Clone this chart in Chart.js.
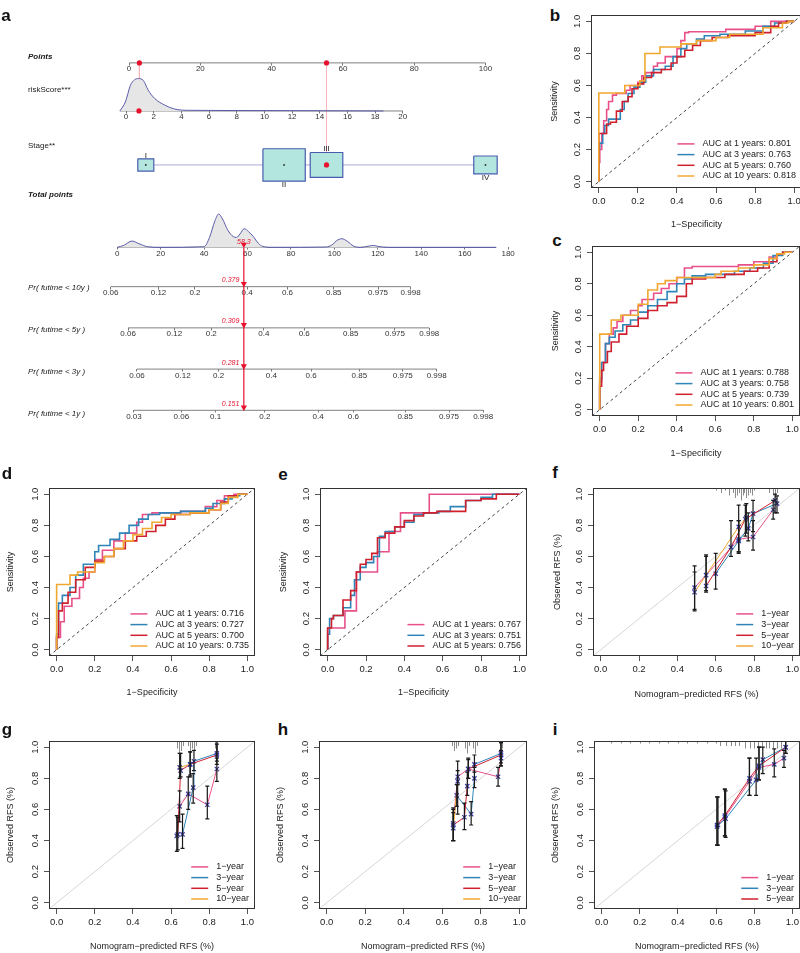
<!DOCTYPE html>
<html>
<head>
<meta charset="utf-8">
<script src="https://cdn.jsdelivr.net/npm/chart.js@4.4.1/dist/chart.umd.min.js"></script>
<style>
html, body { margin: 0; padding: 0; background: #fff; }
#page { position: relative; width: 800px; height: 953px; overflow: hidden; background: #fff; }
#page canvas { position: absolute; }
.tag { position: absolute; font: bold 17px "Liberation Sans", Arial, sans-serif; color: #111; transform: translate(-50%, -50%); line-height: 1; }
</style>
</head>
<body>
<div id="page">
  <canvas id="nomo" width="520" height="430" style="left:0;top:0"></canvas>
  <div class="tag" style="left:6px;top:15px">a</div>
  <div class="tag" style="left:555px;top:15px">b</div>
  <div class="tag" style="left:557px;top:240px">c</div>
  <div class="tag" style="left:7px;top:473px">d</div>
  <div class="tag" style="left:283px;top:474px">e</div>
  <div class="tag" style="left:555px;top:472px">f</div>
  <div class="tag" style="left:7px;top:729px">g</div>
  <div class="tag" style="left:283px;top:729px">h</div>
  <div class="tag" style="left:555px;top:729px">i</div>
</div>
<script>
// ---- nomogram (a) ----
const pointsTicks = [0, 20, 40, 60, 80, 100];
const riskTicks = [0, 2, 4, 6, 8, 10, 12, 14, 16, 18, 20];
const totalTicks = [0, 20, 40, 60, 80, 100, 120, 140, 160, 180];
const riskDensX = [-0.45, -0.05, 0.31, 0.6, 0.9, 1.25, 1.6, 2.08, 2.8, 3.5, 4.5, 7, 12, 18.6];
const riskDensY = [0, 0.28, 0.79, 0.96, 1.0, 0.94, 0.64, 0.38, 0.18, 0.06, 0.02, 0.015, 0.01, 0];
const totalDensX = [0, 3, 6.8, 10, 14, 20, 40, 42.5, 45, 46.7, 48.5, 50.8, 53.5, 55, 56.5, 58.5, 60.5, 62.6, 65, 67, 72, 96, 99, 101, 103.4, 106, 108.8, 112, 116, 118, 120, 125, 174.5];
const totalDensY = [0, 0.06, 0.19, 0.11, 0.02, 0, 0.02, 0.3, 0.8, 1.0, 0.85, 0.53, 0.32, 0.3, 0.4, 0.56, 0.47, 0.33, 0.12, 0.03, 0, 0.01, 0.08, 0.2, 0.26, 0.18, 0.04, 0, 0.04, 0.06, 0.03, 0, 0];
const stageNames = ['I', 'II', 'III', 'IV'];
const stagePoints = [4.7, 43.5, 55.4, 100];
const stageShare = [7, 49, 29, 15];
const probYears = ['10y', '5y', '3y', '1y'];
const probTickText = [
  ['0.06', '0.12', '0.2', '0.4', '0.6', '0.85', '0.975', '0.998'],
  ['0.06', '0.12', '0.2', '0.4', '0.6', '0.85', '0.975', '0.998'],
  ['0.06', '0.12', '0.2', '0.4', '0.6', '0.85', '0.975', '0.998'],
  ['0.03', '0.06', '0.1', '0.2', '0.4', '0.6', '0.85', '0.975', '0.998']
];
const probTickAt = [
  [-3.0, 19.0, 35.8, 59.8, 78.4, 99.7, 120.1, 135.1],
  [5.0, 26.3, 43.3, 67.5, 86.1, 107.5, 127.9, 143.7],
  [9.1, 30.2, 46.7, 71.0, 89.3, 111.5, 131.5, 147.1],
  [7.7, 29.5, 45.3, 68.0, 92.5, 108.7, 132.6, 152.8, 168.5]
];
const patientPoints = [2.9, 55.4];
const patientRisk = 0.93;
const patientStage = 2;
const patientTotal = 58.3;
const patientProb = [0.379, 0.309, 0.281, 0.151];

// ---- ROC curves (b-e): [fpr, tpr] corners, rising then running ----
const rocYears = [1, 3, 5, 10];
const aucB = [0.801, 0.763, 0.760, 0.818];
const aucC = [0.788, 0.758, 0.739, 0.801];
const aucD = [0.716, 0.727, 0.700, 0.735];
const aucE = [0.767, 0.751, 0.756];
const rocB1 = [[0.005,0.12],[0.015,0.2],[0.025,0.3],[0.04,0.38],[0.05,0.45],[0.07,0.5],[0.09,0.54],[0.14,0.55],[0.16,0.57],[0.2,0.6],[0.22,0.62],[0.24,0.66],[0.28,0.68],[0.3,0.72],[0.34,0.74],[0.4,0.78],[0.42,0.83],[0.44,0.88],[0.46,0.93],[0.65,0.935],[0.8,0.95],[0.88,0.97],[0.93,1.0],[1,1]];
const rocB3 = [[0.005,0.21],[0.02,0.24],[0.03,0.3],[0.05,0.35],[0.07,0.39],[0.11,0.39],[0.13,0.45],[0.15,0.5],[0.18,0.55],[0.21,0.59],[0.24,0.62],[0.28,0.66],[0.34,0.7],[0.38,0.72],[0.42,0.78],[0.45,0.83],[0.5,0.86],[0.54,0.89],[0.62,0.91],[0.75,0.92],[0.84,0.94],[0.9,0.97],[0.96,0.99],[1,1]];
const rocB5 = [[0.04,0.3],[0.06,0.36],[0.09,0.37],[0.12,0.44],[0.15,0.5],[0.17,0.53],[0.2,0.58],[0.23,0.61],[0.27,0.65],[0.32,0.68],[0.37,0.7],[0.4,0.74],[0.44,0.78],[0.48,0.82],[0.52,0.85],[0.58,0.88],[0.66,0.9],[0.8,0.91],[0.88,0.93],[0.92,0.97],[0.96,0.99],[1,1]];
const rocB10 = [[0.133,0.553],[0.21,0.6],[0.236,0.63],[0.313,0.8],[0.42,0.84],[0.5,0.86],[0.6,0.88],[0.67,0.9],[0.84,0.92],[0.94,0.96],[0.97,0.99],[1,1]];
const rocC1 = [[0.01,0.18],[0.03,0.3],[0.05,0.42],[0.07,0.48],[0.09,0.52],[0.12,0.56],[0.16,0.6],[0.2,0.63],[0.22,0.66],[0.28,0.7],[0.32,0.74],[0.36,0.77],[0.4,0.8],[0.44,0.84],[0.48,0.9],[0.72,0.91],[0.8,0.92],[0.88,0.94],[0.92,0.97],[0.95,0.99],[1,1]];
const rocC3 = [[0.01,0.2],[0.03,0.3],[0.05,0.42],[0.08,0.46],[0.12,0.5],[0.16,0.54],[0.2,0.57],[0.25,0.62],[0.3,0.66],[0.35,0.7],[0.4,0.75],[0.44,0.8],[0.48,0.83],[0.55,0.85],[0.7,0.86],[0.78,0.88],[0.85,0.9],[0.9,0.93],[0.95,0.98],[1,1]];
const rocC5 = [[0.01,0.15],[0.02,0.25],[0.04,0.3],[0.06,0.37],[0.1,0.43],[0.14,0.48],[0.2,0.53],[0.25,0.58],[0.3,0.63],[0.35,0.66],[0.4,0.68],[0.45,0.72],[0.48,0.8],[0.55,0.83],[0.65,0.84],[0.75,0.86],[0.82,0.88],[0.88,0.9],[0.92,0.94],[0.95,0.99],[1,1]];
const rocC10 = [[0.06,0.48],[0.11,0.57],[0.2,0.6],[0.25,0.67],[0.3,0.76],[0.34,0.8],[0.4,0.82],[0.44,0.84],[0.6,0.84],[0.63,0.86],[0.72,0.88],[0.8,0.9],[0.88,0.92],[0.92,0.96],[0.96,0.99],[1,1]];
const rocD1 = [[0.02,0.08],[0.04,0.18],[0.08,0.28],[0.12,0.33],[0.14,0.4],[0.17,0.46],[0.2,0.5],[0.24,0.58],[0.3,0.64],[0.36,0.7],[0.42,0.75],[0.45,0.82],[0.5,0.87],[0.65,0.88],[0.78,0.89],[0.84,0.92],[0.88,0.96],[0.93,0.99],[1,1]];
const rocD3 = [[0.01,0.1],[0.03,0.3],[0.07,0.35],[0.1,0.4],[0.14,0.48],[0.2,0.55],[0.22,0.63],[0.28,0.67],[0.33,0.71],[0.38,0.75],[0.43,0.8],[0.48,0.84],[0.54,0.87],[0.65,0.88],[0.78,0.89],[0.82,0.91],[0.88,0.94],[0.92,0.97],[0.96,0.99],[1,1]];
const rocD5 = [[0.01,0.08],[0.03,0.25],[0.06,0.3],[0.1,0.37],[0.15,0.45],[0.2,0.53],[0.25,0.57],[0.3,0.6],[0.36,0.65],[0.42,0.7],[0.47,0.73],[0.52,0.76],[0.57,0.8],[0.62,0.84],[0.7,0.87],[0.8,0.88],[0.86,0.9],[0.9,0.95],[0.95,0.99],[1,1]];
const rocD10 = [[0.07,0.42],[0.11,0.48],[0.2,0.5],[0.25,0.56],[0.3,0.6],[0.35,0.65],[0.4,0.7],[0.45,0.74],[0.5,0.78],[0.55,0.82],[0.6,0.85],[0.7,0.87],[0.8,0.88],[0.86,0.9],[0.9,0.94],[0.95,0.98],[1,1]];
const rocE1 = [[0.09,0.14],[0.15,0.25],[0.26,0.5],[0.32,0.63],[0.38,0.76],[0.53,0.88],[1,1]];
const rocE3 = [[0.01,0.1],[0.03,0.2],[0.08,0.22],[0.12,0.27],[0.14,0.35],[0.17,0.45],[0.2,0.53],[0.24,0.56],[0.27,0.6],[0.3,0.73],[0.35,0.76],[0.4,0.79],[0.45,0.82],[0.5,0.87],[0.58,0.88],[0.64,0.89],[0.72,0.92],[0.8,0.96],[0.86,0.98],[0.9,1.0],[1,1]];
const rocE5 = [[0.02,0.14],[0.03,0.2],[0.08,0.22],[0.12,0.32],[0.15,0.38],[0.17,0.5],[0.2,0.55],[0.23,0.58],[0.26,0.62],[0.3,0.72],[0.35,0.75],[0.4,0.79],[0.45,0.83],[0.5,0.86],[0.57,0.88],[0.72,0.89],[0.8,0.96],[0.88,0.97],[0.92,1.0],[1,1]];

// ---- calibration (f-i): [predicted, observed, lower, upper] ----
const calYears = ['1-year', '3-year', '5-year', '10-year'];
const calF1 = [[0.49,0.40,0.26,0.54],[0.72,0.71,0.63,0.83],[0.795,0.725,0.64,0.83],[0.90,0.90,0.84,0.96]];
const calF3 = [[0.60,0.49,0.39,0.62],[0.72,0.70,0.63,0.83],[0.77,0.78,0.70,0.88],[0.795,0.875,0.76,0.96],[0.92,0.94,0.88,0.99]];
const calF5 = [[0.55,0.41,0.37,0.61],[0.68,0.66,0.60,0.83],[0.755,0.84,0.73,0.93],[0.91,0.96,0.88,1.0]];
const calF10 = [[0.49,0.37,0.25,0.50],[0.55,0.48,0.38,0.60],[0.72,0.79,0.62,0.93],[0.76,0.85,0.75,0.94]];
const calG1 = [[0.63,0.43,0.33,0.56],[0.645,0.62,0.52,0.72],[0.69,0.70,0.60,0.81],[0.79,0.63,0.54,0.75],[0.84,0.86,0.78,0.93]];
const calG3 = [[0.66,0.44,0.35,0.57],[0.716,0.74,0.64,0.83],[0.72,0.91,0.85,0.98],[0.84,0.96,0.91,1.04]];
const calG5 = [[0.635,0.44,0.34,0.55],[0.65,0.85,0.81,0.96],[0.70,0.89,0.81,0.97],[0.84,0.95,0.89,1.02]];
const calG10 = [[0.645,0.87,0.80,0.96],[0.70,0.89,0.82,0.97]];
const calH1 = [[0.657,0.51,0.40,0.61],[0.68,0.81,0.76,0.91],[0.735,0.86,0.80,0.92],[0.89,0.81,0.75,0.87],[0.905,0.93,0.88,0.98]];
const calH3 = [[0.675,0.69,0.62,0.76],[0.75,0.57,0.50,0.65],[0.767,0.80,0.74,0.87],[0.767,0.89,0.84,0.95],[0.905,0.96,0.90,1.03]];
const calH5 = [[0.657,0.50,0.40,0.60],[0.715,0.55,0.47,0.64],[0.73,0.75,0.69,0.84],[0.735,0.86,0.80,0.93],[0.905,0.95,0.88,1.03]];
const calH10 = [[0.657,0.48,0.40,0.58],[0.68,0.78,0.57,0.85]];
const calI1 = [[0.605,0.49,0.37,0.68],[0.646,0.55,0.43,0.73],[0.775,0.78,0.69,0.93],[0.825,0.87,0.79,1.0],[0.905,0.89,0.81,0.99],[0.956,0.93,0.87,0.98]];
const calI3 = [[0.61,0.50,0.37,0.68],[0.65,0.54,0.42,0.72],[0.81,0.79,0.69,0.93],[0.845,0.92,0.83,1.0],[0.965,1.0,0.96,1.04]];
const calI5 = [[0.605,0.50,0.37,0.68],[0.646,0.56,0.43,0.73],[0.775,0.80,0.69,0.93],[0.825,0.88,0.79,1.0],[0.965,1.0,0.96,1.04]];
// distribution of predictions shown at the top: [value, count]
const rugF = [[0.6,1],[0.63,2],[0.65,1],[0.67,3],[0.69,2],[0.7,4],[0.71,3],[0.72,2],[0.73,5],[0.74,3],[0.75,2],[0.76,4],[0.77,3],[0.78,2],[0.79,3],[0.8,1],[0.88,2],[0.9,3],[0.91,4],[0.92,2]];
const rugG = [[0.63,3],[0.64,5],[0.65,4],[0.66,2],[0.69,2],[0.7,5],[0.71,3],[0.72,4],[0.73,2],[0.83,3],[0.84,5]];
const rugH = [[0.65,2],[0.66,4],[0.67,3],[0.68,2],[0.72,3],[0.73,5],[0.74,2],[0.76,3],[0.77,5],[0.78,2],[0.9,2],[0.91,3]];
const rugI = [[0.05,1],[0.1,1],[0.15,1],[0.2,1],[0.25,1],[0.3,1],[0.35,1],[0.4,1],[0.45,1],[0.5,1],[0.55,1],[0.6,1],[0.62,2],[0.65,2],[0.68,2],[0.7,2],[0.72,2],[0.75,3],[0.78,3],[0.8,3],[0.82,3],[0.84,3],[0.86,3],[0.88,3],[0.9,3],[0.92,3],[0.94,3],[0.96,3]];

const yearColors = ['#e8508a', '#2f85b8', '#d0202e', '#f0a830'];
const FAM = '"Liberation Sans", Arial, Helvetica, sans-serif';
Chart.defaults.font.family = FAM;
Chart.defaults.color = '#222';

// ================= panel a =================
const A_W = 520, A_H = 430;
const ROW = { points: 60, risk: 109, stage: 164, total: 248, prob: [288, 330, 372, 414] };
function pxRange(v0, p0, v1, p1) {
  const k = (p1 - p0) / (v1 - v0);
  return { min: v0 - p0 / k, max: v0 + (A_W - p0) / k };
}
const rangePts = pxRange(0, 127, 100, 489);
const rangeRisk = pxRange(0, 124, 20, 405);
const rangeTot = pxRange(0, 115, 180, 512);
const pxPerPoint = (489 - 127) / 100;
const boxHalfW = i => 3.07 * Math.sqrt(stageShare[i]) / pxPerPoint;
const boxHalfH = i => 2.36 * Math.sqrt(stageShare[i]);

function nomoAxis(range, rowY, tickVals, tickText) {
  return {
    type: 'linear', axis: 'x', min: range.min, max: range.max,
    position: { y: rowY },
    border: { display: false },
    grid: { drawOnChartArea: false, drawTicks: true, tickLength: 2.5, color: '#777' },
    ticks: {
      autoSkip: false, maxRotation: 0, minRotation: 0, padding: -1,
      font: { size: 8 }, color: '#333',
      callback: (v, i) => tickText ? tickText[i] : String(v)
    },
    afterBuildTicks: s => { s.ticks = tickVals.map(v => ({ value: v })); }
  };
}

function seg(axisId, x0, x1, y0, y1, color, width, order) {
  return { xAxisID: axisId, yAxisID: 'y', data: [{ x: x0, y: y0 }, { x: x1, y: y1 }],
    showLine: true, borderColor: color, borderWidth: width, pointRadius: 0, order: order };
}

const nomoSets = [];
// axis lines
nomoSets.push(seg('xPts', pointsTicks[0], pointsTicks[pointsTicks.length - 1], ROW.points, ROW.points, '#808080', 1, 6));
nomoSets.push(seg('xRisk', riskDensX[0], riskTicks[riskTicks.length - 1], ROW.risk, ROW.risk, '#808080', 1, 6));
nomoSets.push(seg('xTot', totalDensX[0], totalDensX[totalDensX.length - 1], ROW.total, ROW.total, '#808080', 1, 6));
probTickAt.forEach((t, i) => nomoSets.push(seg('xP' + i, t[0], t[t.length - 1], ROW.prob[i], ROW.prob[i], '#808080', 1, 6)));
// densities
nomoSets.push({ xAxisID: 'xRisk', yAxisID: 'y', order: 5,
  data: riskDensX.map((v, i) => ({ x: v, y: ROW.risk - riskDensY[i] * 33 })),
  showLine: true, fill: { value: ROW.risk }, backgroundColor: '#e6e6e6', borderColor: '#5b5bab',
  borderWidth: 1, pointRadius: 0, cubicInterpolationMode: 'monotone' });
nomoSets.push({ xAxisID: 'xTot', yAxisID: 'y', order: 5,
  data: totalDensX.map((v, i) => ({ x: v, y: ROW.total - totalDensY[i] * 34 })),
  showLine: true, fill: { value: ROW.total }, backgroundColor: '#e6e6e6', borderColor: '#5b5bab',
  borderWidth: 1, pointRadius: 0, cubicInterpolationMode: 'monotone' });
// guides from patient values to the points axis
nomoSets.push(seg('xPts', patientPoints[0], patientPoints[0], ROW.points, ROW.risk, '#f5b3bf', 1, 7));
nomoSets.push(seg('xPts', patientPoints[1], patientPoints[1], ROW.points, ROW.stage, '#f5b3bf', 1, 7));
// stage connector and boxes
nomoSets.push(seg('xPts', stagePoints[0], stagePoints[stagePoints.length - 1], ROW.stage, ROW.stage, '#aaaad8', 1, 6));
stagePoints.forEach((p, i) => {
  const hw = boxHalfW(i), hh = boxHalfH(i);
  nomoSets.push({ xAxisID: 'xPts', yAxisID: 'y', order: 3,
    data: [{ x: p - hw, y: ROW.stage - hh }, { x: p + hw, y: ROW.stage - hh }, { x: p + hw, y: ROW.stage + hh },
           { x: p - hw, y: ROW.stage + hh }, { x: p - hw, y: ROW.stage - hh }],
    showLine: true, fill: 'shape', backgroundColor: '#b2e6de', borderColor: '#4a5cb0', borderWidth: 1.2, pointRadius: 0 });
});
nomoSets.push({ xAxisID: 'xPts', yAxisID: 'y', order: 2,
  data: stagePoints.map(p => ({ x: p, y: ROW.stage })), pointRadius: 0.9, pointBackgroundColor: '#222', pointBorderWidth: 0 });
// patient readout
const RED = '#e8112d';
nomoSets.push({ xAxisID: 'xPts', yAxisID: 'y', order: 0,
  data: patientPoints.map(p => ({ x: p, y: ROW.points })), pointRadius: 2.6, pointBackgroundColor: RED, pointBorderWidth: 0 });
nomoSets.push({ xAxisID: 'xRisk', yAxisID: 'y', order: 0,
  data: [{ x: patientRisk, y: ROW.risk }], pointRadius: 2.6, pointBackgroundColor: RED, pointBorderWidth: 0 });
nomoSets.push({ xAxisID: 'xPts', yAxisID: 'y', order: 0,
  data: [{ x: stagePoints[patientStage], y: ROW.stage }], pointRadius: 2.6, pointBackgroundColor: RED, pointBorderWidth: 0 });
nomoSets.push(seg('xTot', patientTotal, patientTotal, ROW.total, ROW.prob[ROW.prob.length - 1], RED, 1.2, 1));
nomoSets.push({ xAxisID: 'xTot', yAxisID: 'y', order: 0,
  data: [ROW.total].concat(ROW.prob).map(r => ({ x: patientTotal, y: r - 3 })),
  pointStyle: 'triangle', rotation: 180, pointRadius: 3.6, pointBackgroundColor: RED, pointBorderColor: RED, pointBorderWidth: 0 });

const nomoText = {
  id: 'nomoText',
  afterDatasetsDraw(chart) {
    const { ctx, scales } = chart;
    ctx.save();
    ctx.fillStyle = '#1a1a1a';
    ctx.textAlign = 'left';
    ctx.textBaseline = 'middle';
    const titles = [['Points', 57, 'italic bold '], ['riskScore***', 90, ''], ['Stage**', 146, ''], ['Total points', 195, 'italic bold ']]
      .concat(probYears.map((yr, i) => ['Pr( futime < ' + yr + ' )', ROW.prob[i] - 0.5, 'italic ']));
    titles.forEach(t => { ctx.font = t[2] + '8px ' + FAM; ctx.fillText(t[0], 28, t[1]); });
    ctx.font = '8px ' + FAM;
    ctx.textAlign = 'center';
    stageNames.forEach((n, i) => {
      const px = scales.xPts.getPixelForValue(stagePoints[i]);
      const above = i % 2 === 0;
      const py = scales.y.getPixelForValue(above ? ROW.stage - boxHalfH(i) : ROW.stage + boxHalfH(i));
      ctx.textBaseline = above ? 'bottom' : 'top';
      ctx.fillText(n, px, above ? py + 0.5 : py - 0.5);
    });
    ctx.fillStyle = RED;
    ctx.font = 'italic 7px ' + FAM;
    ctx.textBaseline = 'middle';
    const lx = scales.xTot.getPixelForValue(patientTotal);
    ctx.fillText(patientTotal.toFixed(1), lx, scales.y.getPixelForValue(ROW.total - 5.5));
    ctx.textAlign = 'right';
    patientProb.forEach((p, i) => ctx.fillText(p.toFixed(3), lx - 4.5, scales.y.getPixelForValue(ROW.prob[i] - 6.5)));
    ctx.restore();
  }
};

const nomoScales = {
  y: { type: 'linear', min: 0, max: A_H, reverse: true, display: false },
  xPts: nomoAxis(rangePts, ROW.points, pointsTicks),
  xRisk: nomoAxis(rangeRisk, ROW.risk, riskTicks),
  xTot: nomoAxis(rangeTot, ROW.total, totalTicks)
};
probTickAt.forEach((t, i) => { nomoScales['xP' + i] = nomoAxis(rangeTot, ROW.prob[i], t, probTickText[i]); });

new Chart(document.getElementById('nomo'), {
  type: 'scatter',
  data: { datasets: nomoSets },
  options: {
    responsive: false, animation: false, events: [],
    layout: { padding: 0 },
    plugins: { legend: { display: false }, tooltip: { enabled: false } },
    scales: nomoScales
  },
  plugins: [nomoText]
});

// ================= panels b-i =================
const page = document.getElementById('page');
const panelInfo = {};
const unitTicks = [0, 0.2, 0.4, 0.6, 0.8, 1.0];

const panelExtras = {
  id: 'panelExtras',
  afterDatasetsDraw(chart) {
    const info = panelInfo[chart.canvas.id];
    const { ctx, chartArea: a, scales: { x, y } } = chart;
    ctx.save();
    ctx.beginPath();
    ctx.rect(a.left, a.top, a.width, a.height);
    ctx.clip();
    if (info.rug) {
      ctx.strokeStyle = '#8c8c8c';
      ctx.lineWidth = 1;
      info.rug.forEach(r => {
        const px = Math.round(x.getPixelForValue(r[0])) + 0.5;
        ctx.beginPath(); ctx.moveTo(px, a.top); ctx.lineTo(px, a.top + r[1] * 2.5); ctx.stroke();
      });
    }
    ctx.strokeStyle = '#1a1a1a';
    ctx.lineWidth = 1.2;
    chart.data.datasets.forEach(ds => {
      if (!ds.err) return;
      ds.data.forEach((p, i) => {
        const px = x.getPixelForValue(p.x);
        const y0 = y.getPixelForValue(ds.err[i][0]), y1 = y.getPixelForValue(ds.err[i][1]);
        ctx.beginPath();
        ctx.moveTo(px, y0); ctx.lineTo(px, y1);
        ctx.moveTo(px - 2, y0); ctx.lineTo(px + 2, y0);
        ctx.moveTo(px - 2, y1); ctx.lineTo(px + 2, y1);
        ctx.stroke();
      });
    });
    ctx.restore();
    ctx.save();
    ctx.strokeStyle = '#333';
    ctx.lineWidth = 1;
    ctx.strokeRect(Math.round(a.left) + 0.5, Math.round(a.top) + 0.5, Math.round(a.width) - 1, Math.round(a.height) - 1);
    // legend, bottom right inside the box
    ctx.font = '9px ' + FAM;
    const maxW = Math.max(...info.legend.map(l => ctx.measureText(l.text).width));
    const tx = a.right - 6 - maxW;
    const lh = 10.7;
    info.legend.forEach((l, i) => {
      const ly = a.bottom - info.legendBottom - (info.legend.length - 1 - i) * lh;
      ctx.strokeStyle = l.color;
      ctx.lineWidth = 1.5;
      ctx.beginPath(); ctx.moveTo(tx - 25, ly); ctx.lineTo(tx - 8, ly); ctx.stroke();
      ctx.fillStyle = '#222';
      ctx.textAlign = 'left';
      ctx.textBaseline = 'middle';
      ctx.fillText(l.text, tx, ly);
    });
    ctx.restore();
  }
};

function unitAxis(extra) {
  return Object.assign({
    type: 'linear', min: -0.04, max: 1.04,
    border: { display: false },
    grid: { drawOnChartArea: false, drawTicks: true, tickLength: 5, color: '#555' },
    afterBuildTicks: s => { s.ticks = unitTicks.map(v => ({ value: v })); }
  }, extra);
}

function makePanel(id, left, box, yTitleX, xTitleY, yTitle, xTitle, datasets, info) {
  const L = Math.round(box.L), T = Math.round(box.T), R = Math.round(box.R), B = Math.round(box.B);
  const top = T - 14, right = R + 8, bottom = Math.round(xTitleY + 8);
  const cv = document.createElement('canvas');
  cv.id = id;
  cv.width = right - left;
  cv.height = bottom - top;
  cv.style.left = left + 'px';
  cv.style.top = top + 'px';
  page.appendChild(cv);
  panelInfo[id] = info;
  new Chart(cv, {
    type: 'scatter',
    data: { datasets: datasets },
    options: {
      responsive: false, animation: false, events: [],
      layout: { padding: { top: 14, right: 8, left: 0, bottom: 0 } },
      plugins: { legend: { display: false }, tooltip: { enabled: false } },
      scales: {
        x: unitAxis({
          afterFit: s => { s.height = bottom - B; },
          ticks: { autoSkip: false, maxRotation: 0, minRotation: 0, padding: 3, font: { size: 9.5 }, color: '#222', callback: v => v.toFixed(1) },
          title: { display: true, text: xTitle, font: { size: 9 }, color: '#222', padding: { top: 0, bottom: bottom - xTitleY - 5.4 } }
        }),
        y: unitAxis({
          afterFit: s => { s.width = L - left; },
          ticks: { autoSkip: false, minRotation: 90, maxRotation: 90, crossAlign: 'center', padding: 2, font: { size: 9.5 }, color: '#222', callback: v => v.toFixed(1) },
          title: { display: true, text: yTitle, font: { size: 9 }, color: '#222', padding: { top: yTitleX - left - 5.4, bottom: 0 } }
        })
      }
    },
    plugins: [panelExtras]
  });
}

function rocSet(pairs, color) {
  return { data: [{ x: 0, y: 0 }].concat(pairs.map(p => ({ x: p[0], y: p[1] }))),
    showLine: true, stepped: 'after', borderColor: color, borderWidth: 1.6, pointRadius: 0 };
}
function calSet(rows, color) {
  return { data: rows.map(r => ({ x: r[0], y: r[1] })), err: rows.map(r => [r[2], r[3]]),
    showLine: true, borderColor: color, borderWidth: 1, pointStyle: 'crossRot', pointRadius: 3,
    pointBorderColor: '#3f3fa0', pointBorderWidth: 1.3, pointBackgroundColor: 'rgba(0,0,0,0)' };
}
const rocDiag = { data: [{ x: -0.04, y: -0.04 }, { x: 1.04, y: 1.04 }], showLine: true, borderColor: '#444',
  borderWidth: 1, borderDash: [3, 3], pointRadius: 0 };
const calDiag = { data: [{ x: -0.04, y: -0.04 }, { x: 1.04, y: 1.04 }], showLine: true, borderColor: '#d6d6d6',
  borderWidth: 1, pointRadius: 0 };

function rocPanel(id, left, box, yTitleX, xTitleY, curves, auc, legendBottom) {
  const sets = curves.map((c, i) => rocSet(c, yearColors[i])).reverse().concat([rocDiag]);
  const legend = auc.map((v, i) => ({ text: 'AUC at ' + rocYears[i] + ' years: ' + v.toFixed(3), color: yearColors[i] }));
  makePanel(id, left, box, yTitleX, xTitleY, 'Sensitivity', '1\u2212Specificity', sets, { legend: legend, legendBottom: legendBottom });
}
function calPanel(id, left, box, yTitleX, xTitleY, series, rug) {
  const sets = series.map((s, i) => calSet(s, yearColors[i])).reverse().concat([calDiag]);
  const legend = series.map((s, i) => ({ text: calYears[i].replace('-', '\u2212'), color: yearColors[i] }));
  makePanel(id, left, box, yTitleX, xTitleY, 'Observed RFS (%)', 'Nomogram\u2212predicted RFS (%)', sets,
    { legend: legend, legendBottom: 10, rug: rug });
}

rocPanel('pb', 530, { L: 591, T: 15, R: 802, B: 188 }, 555, 225, [rocB1, rocB3, rocB5, rocB10], aucB, 12);
rocPanel('pc', 530, { L: 592, T: 246, R: 800, B: 416 }, 556, 454, [rocC1, rocC3, rocC5, rocC10], aucC, 11);
rocPanel('pd', 0, { L: 49, T: 488, R: 255, B: 656 }, 11, 693, [rocD1, rocD3, rocD5, rocD10], aucD, 10);
rocPanel('pe', 265, { L: 320, T: 488, R: 527, B: 656 }, 284, 693, [rocE1, rocE3, rocE5], aucE, 10);
calPanel('pf', 530, { L: 593, T: 488, R: 800, B: 656 }, 558, 695, [calF1, calF3, calF5, calF10], rugF);
calPanel('pg', 0, { L: 49, T: 741, R: 255, B: 909 }, 11, 947, [calG1, calG3, calG5, calG10], rugG);
calPanel('ph', 265, { L: 319, T: 741, R: 527, B: 909 }, 281, 947, [calH1, calH3, calH5, calH10], rugH);
calPanel('pi', 530, { L: 594, T: 741, R: 800, B: 909 }, 556, 947, [calI1, calI3, calI5], rugI);
</script>
</body>
</html>
